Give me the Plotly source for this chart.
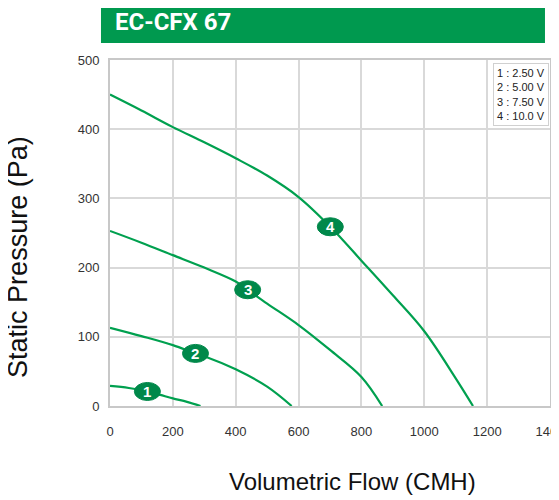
import plotly.graph_objects as go

# Data
c1_flow = [0, 60, 119, 160, 200, 245, 288]
c1_pres = [29, 26, 21, 16, 11, 6, 0]
c2_flow = [0, 100, 200, 272, 300, 400, 500, 578]
c2_pres = [113, 101, 88, 76, 72, 53, 28, 0]
c3_flow = [0, 100, 200, 300, 400, 438, 500, 600, 700, 800, 866]
c3_pres = [253, 236, 218, 200, 180, 168, 148, 117, 81, 42, 0]
c4_flow = [0, 100, 200, 300, 400, 500, 600, 701, 800, 900, 1000, 1100, 1155]
c4_pres = [450, 427, 403, 381, 358, 333, 302, 259, 210, 160, 108, 40, 0]

labels = ["1", "2", "3", "4"]
label_flow = [119, 272, 438, 701]
label_pres = [21, 76, 168, 259]
legend_lines = ["1 : 2.50 V", "2 : 5.00 V", "3 : 7.50 V", "4 : 10.0 V"]

title = "EC-CFX 67"
x_title = "Volumetric Flow (CMH)"
y_title = "Static Pressure (Pa)"

LINE = "#00a04f"
DARK = "#00884a"
BAR = "#00994f"
FONT = "Liberation Sans, Arial, sans-serif"

fig = go.Figure()
for fx, py in [(c1_flow, c1_pres), (c2_flow, c2_pres), (c3_flow, c3_pres), (c4_flow, c4_pres)]:
    fig.add_trace(go.Scatter(x=fx, y=py, mode="lines", line=dict(color=LINE, width=2.2, shape="spline"),
                             hoverinfo="skip", showlegend=False))

shapes = []
annotations = []
for lab, fx, py in zip(labels, label_flow, label_pres):
    shapes.append(dict(type="circle", xref="x", yref="y", xsizemode="pixel", ysizemode="pixel",
                       xanchor=fx, yanchor=py, x0=-13, x1=13, y0=-9, y1=9,
                       fillcolor=DARK, line=dict(color=DARK, width=1), layer="above"))
    annotations.append(dict(x=fx, y=py, xref="x", yref="y", text="<b>%s</b>" % lab, showarrow=False,
                            font=dict(color="white", size=15, family=FONT), xanchor="center", yanchor="middle"))

# title bar
shapes.append(dict(type="rect", xref="paper", yref="paper", x0=-0.0205, x1=0.9886, y0=1.049, y1=1.2,
                   fillcolor=BAR, line=dict(width=0), layer="above"))
annotations.append(dict(x=0.007, y=1.11, xref="paper", yref="paper", text="<b>%s</b>" % title,
                        showarrow=False, xanchor="left", yanchor="middle",
                        font=dict(color="white", size=24, family="Roboto, Arial, sans-serif")))

# legend box
annotations.append(dict(x=0.997, y=0.99, xref="paper", yref="paper", text="<br>".join(legend_lines),
                        showarrow=False, xanchor="right", yanchor="top", align="right",
                        bgcolor="white", bordercolor="#d0d0d0", borderwidth=1, borderpad=3,
                        font=dict(color="#222", size=11, family=FONT)))

# axis titles
annotations.append(dict(x=-0.209, y=0.431, xref="paper", yref="paper", text=y_title, textangle=-90,
                        showarrow=False, xanchor="center", yanchor="middle",
                        font=dict(size=27, color="#111", family=FONT)))
annotations.append(dict(x=0.55, y=-0.219, xref="paper", yref="paper", text=x_title,
                        showarrow=False, xanchor="center", yanchor="middle",
                        font=dict(size=24, color="#111", family=FONT)))

fig.update_layout(
    width=551, height=492,
    margin=dict(l=102, r=9, t=52, b=94, autoexpand=False),
    paper_bgcolor="white", plot_bgcolor="white",
    shapes=shapes, annotations=annotations,
    font=dict(family=FONT, color="#333"),
    xaxis=dict(range=[0, 1400], dtick=200, showgrid=True, gridcolor="#d9d9d9", gridwidth=2,
               showline=True, linecolor="#c8c8c8", linewidth=2, mirror=True, zeroline=False,
               ticks="", ticklabelstandoff=12, ticklabeloverflow="allow",
               tickfont=dict(size=13, color="#333"), automargin=False),
    yaxis=dict(range=[0, 500], dtick=100, showgrid=True, gridcolor="#d9d9d9", gridwidth=2,
               showline=True, linecolor="#c8c8c8", linewidth=2, mirror=True, zeroline=False,
               ticks="", ticklabelstandoff=6, tickfont=dict(size=13, color="#333"), automargin=False),
)

fig.write_html("out.html")
